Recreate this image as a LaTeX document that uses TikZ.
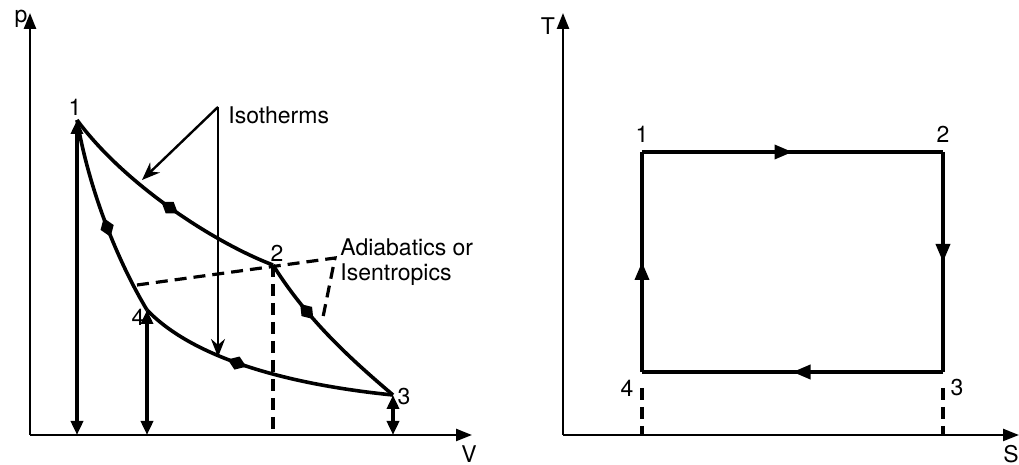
\documentclass[tikz,border=0pt]{standalone}
\usepackage{fontspec}
\setmainfont{TeX Gyre Heros}
\usetikzlibrary{arrows.meta,decorations.markings}

\tikzset{
  axis/.style={line width=1.2pt, -{Triangle[length=8pt,width=6pt]}},
  process/.style={line width=1.8pt},
  bothtips/.style={{Triangle[length=7pt,width=6pt]}-{Triangle[length=7pt,width=6pt]}},
  guide/.style={line width=1.6pt, dash pattern=on 6pt off 3.5pt},
  pointer/.style={line width=1.2pt, -{Stealth[length=9pt,width=7pt]}},
  pvmark/.style={postaction={decorate}, decoration={markings,
      mark=at position #1 with {\arrow{Kite[length=10pt,width=7pt,inset=5pt]}}}},
  tsmark/.style={postaction={decorate}, decoration={markings,
      mark=at position 0.5 with {\arrow{Triangle[length=9pt,width=7pt]}}}},
  lbl/.style={inner sep=0pt}
}

\begin{document}
\begin{tikzpicture}[x=0.5pt, y=0.5pt, font=\fontsize{11.5}{12.5}\selectfont]
    \useasboundingbox (0,0) rectangle (1019,465);

    % p-V diagram: axes
    \coordinate (o) at (30,30);
    \coordinate (ptop) at (30,452);
    \coordinate (vend) at (472,30);
    \draw[axis] (o) -- (ptop);
    \draw[axis] (o) -- (vend);
    \node[lbl] (plab) at (21,446) {p};
    \node[lbl] (vlab) at (469,11) {V};

    % p-V diagram: cycle
    \coordinate (p1) at (77,345);
    \coordinate (p2) at (273,200);
    \coordinate (p3) at (393,70);
    \coordinate (p4) at (147,155);
    \draw[process, pvmark=0.56] (p1) .. controls (125,280) and (215,222) .. (p2);
    \draw[process, pvmark=0.38] (p2) .. controls (308,144) and (353,104) .. (p3);
    \draw[process, pvmark=0.64] (p3) .. controls (293,80) and (195,105) .. (p4);
    \draw[process, pvmark=0.50] (p4) .. controls (120,200) and (90,270) .. (p1);
    \node[lbl] (n1) at (75,358) {1};
    \node[lbl] (n2) at (277,212) {2};
    \node[lbl] (n3) at (404,68) {3};
    \node[lbl] (n4) at (138,148) {4};

    % volumes
    \coordinate (b1) at (77,30);
    \coordinate (b2) at (273,30);
    \coordinate (b3) at (393,30);
    \coordinate (b4) at (147,30);
    \draw[process, bothtips] (b1) -- (p1);
    \draw[process, bothtips] (b4) -- (p4);
    \draw[process, bothtips] (b3) -- (p3);
    \draw[guide] (p2) -- (b2);

    % isotherms pointer
    \coordinate (iso) at (218,358);
    \coordinate (i1) at (142,285);
    \coordinate (i2) at (218,108);
    \draw[pointer] (iso) -- (i1);
    \draw[pointer] (iso) -- (i2);
    \node[lbl, anchor=west] (isolab) at (228,350) {Isotherms};

    % adiabatics pointer
    \coordinate (a1) at (137,180);
    \coordinate (a2) at (335,207);
    \coordinate (a3) at (322,143);
    \draw[guide] (a1) -- (a2) -- (a3);
    \node[lbl, anchor=north west, align=left] (adilab) at (340,227) {Adiabatics or\\Isentropics};

    % T-S diagram: axes
    \coordinate (so) at (563,30);
    \coordinate (ttop) at (563,452);
    \coordinate (send) at (1019,30);
    \draw[axis] (so) -- (ttop);
    \draw[axis] (so) -- (send);
    \node[lbl] (tlab) at (548,439) {T};
    \node[lbl] (slab) at (1011,11) {S};

    % T-S diagram: cycle
    \coordinate (q1) at (642,313);
    \coordinate (q2) at (943,313);
    \coordinate (q3) at (943,93);
    \coordinate (q4) at (642,93);
    \draw[process, tsmark] (q1) -- (q2);
    \draw[process, tsmark] (q2) -- (q3);
    \draw[process, tsmark] (q3) -- (q4);
    \draw[process, tsmark] (q4) -- (q1);
    \node[lbl] (m1) at (642,331) {1};
    \node[lbl] (m2) at (943,331) {2};
    \node[lbl] (m3) at (957,77) {3};
    \node[lbl] (m4) at (627,77) {4};

    % entropies
    \coordinate (c3) at (943,30);
    \coordinate (c4) at (642,30);
    \draw[guide, shorten <=8pt] (q4) -- (c4);
    \draw[guide, shorten <=8pt] (q3) -- (c3);
\end{tikzpicture}
\end{document}
